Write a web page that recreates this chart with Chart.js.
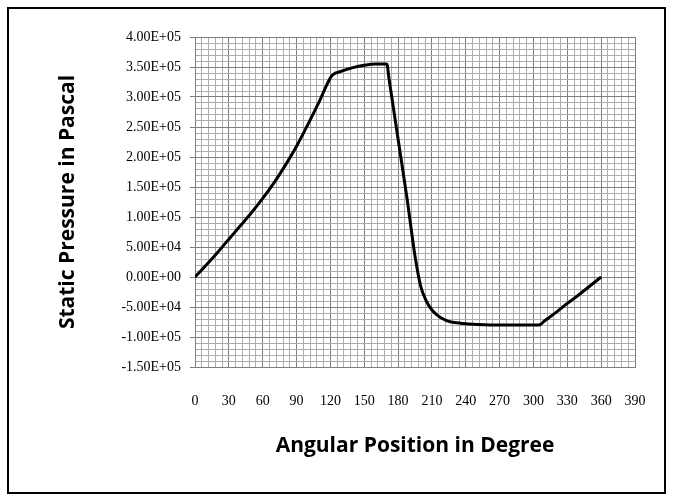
<!DOCTYPE html>
<html>
<head>
<meta charset="utf-8">
<script src="https://cdn.jsdelivr.net/npm/chart.js@4.4.1/dist/chart.umd.min.js"></script>
<style>
  html, body { margin: 0; padding: 0; background: #fff; }
  #wrap { width: 673px; height: 495px; position: relative; }
</style>
</head>
<body>
<div id="wrap"><canvas id="grafico" width="673" height="495"></canvas></div>
<script>
// Ángulo (grados) y presión estática (Pa)
const angulos = [0, 10, 20, 30, 40, 50, 60, 70, 80, 90, 100, 110, 120, 122,
  130, 140, 150, 160, 170, 172, 180, 188, 195, 200, 205, 210, 215, 220, 225, 230,
  240, 250, 270, 290, 305, 310, 320, 330, 340, 350, 360];
const presion = [0, 20000, 41000, 63000, 85000, 107000, 131000, 157000, 186000, 218000,
  254000, 292000, 332000, 337000,
  343000, 349000, 353000, 355000, 355000, 330000, 230000, 130000, 35000, -15000,
  -40000, -55000, -64000, -70000, -74000, -76000,
  -78000, -79000, -80000, -80000, -80000, -73000, -59000, -44000, -30000, -15000, 0];

// Etiquetas de los ejes
const xEtiquetas = [0, 30, 60, 90, 120, 150, 180, 210, 240, 270, 300, 330, 360, 390];
const yEtiquetas = ['-1.50E+05', '-1.00E+05', '-5.00E+04', '0.00E+00', '5.00E+04', '1.00E+05',
  '1.50E+05', '2.00E+05', '2.50E+05', '3.00E+05', '3.50E+05', '4.00E+05'];
const yMin = -150000, yMax = 400000, yPaso = 50000;

const colorMayor = '#7f7f7f';
const colorMenor = '#adadad';

// Marco exterior del gráfico
const marco = {
  id: 'marco',
  afterDraw(chart) {
    const ctx = chart.ctx;
    ctx.save();
    ctx.strokeStyle = '#000';
    ctx.lineWidth = 2;
    ctx.strokeRect(8, 8, 657, 485);
    ctx.restore();
  }
};

const ctx = document.getElementById('grafico').getContext('2d');
window.myChart = new Chart(ctx, {
  type: 'line',
  data: {
    datasets: [{
      data: angulos.map((a, i) => ({ x: a, y: presion[i] })),
      borderColor: '#000',
      borderWidth: 3,
      pointRadius: 0,
      cubicInterpolationMode: 'monotone',
      fill: false
    }]
  },
  options: {
    responsive: false,
    animation: false,
    events: [],
    layout: { padding: { left: 0, top: 37, right: 38, bottom: 0 } },
    plugins: { legend: { display: false }, tooltip: { enabled: false } },
    scales: {
      x: {
        type: 'linear',
        min: 0,
        max: 390,
        afterFit: function(scale) { scale.height = 128; },
        border: { color: colorMayor },
        grid: {
          drawTicks: false,
          color: function(c) { return c.tick && c.tick.value % 30 === 0 ? colorMayor : colorMenor; }
        },
        ticks: {
          stepSize: 6,
          autoSkip: false,
          maxRotation: 0,
          padding: 26,
          color: '#000',
          font: { family: 'Liberation Serif', size: 14 },
          callback: function(value) {
            return xEtiquetas.includes(value) ? String(value) : '';
          }
        },
        title: {
          display: true,
          text: 'Angular Position in Degree',
          color: '#000',
          font: { family: 'Open Sans', size: 21, weight: 'bold' },
          padding: { top: 0, bottom: 36 }
        }
      },
      y: {
        type: 'linear',
        min: yMin,
        max: yMax,
        afterFit: function(scale) { scale.width = 195; },
        border: { color: colorMayor },
        grid: {
          tickLength: 5,
          color: function(c) { return c.tick && c.tick.value % yPaso === 0 ? colorMayor : colorMenor; },
          tickColor: function(c) { return c.tick && c.tick.value % yPaso === 0 ? colorMayor : 'rgba(0,0,0,0)'; }
        },
        ticks: {
          stepSize: 10000,
          autoSkip: false,
          padding: 9,
          color: '#000',
          font: { family: 'Liberation Serif', size: 14 },
          callback: function(value) {
            if (value % yPaso !== 0) return '';
            return yEtiquetas[Math.round((value - yMin) / yPaso)];
          }
        },
        title: {
          display: true,
          text: 'Static Pressure in Pascal',
          color: '#000',
          font: { family: 'Open Sans', size: 21, weight: 'bold' },
          padding: { top: 55, bottom: 0 }
        }
      }
    }
  },
  plugins: [marco]
});
</script>
</body>
</html>
